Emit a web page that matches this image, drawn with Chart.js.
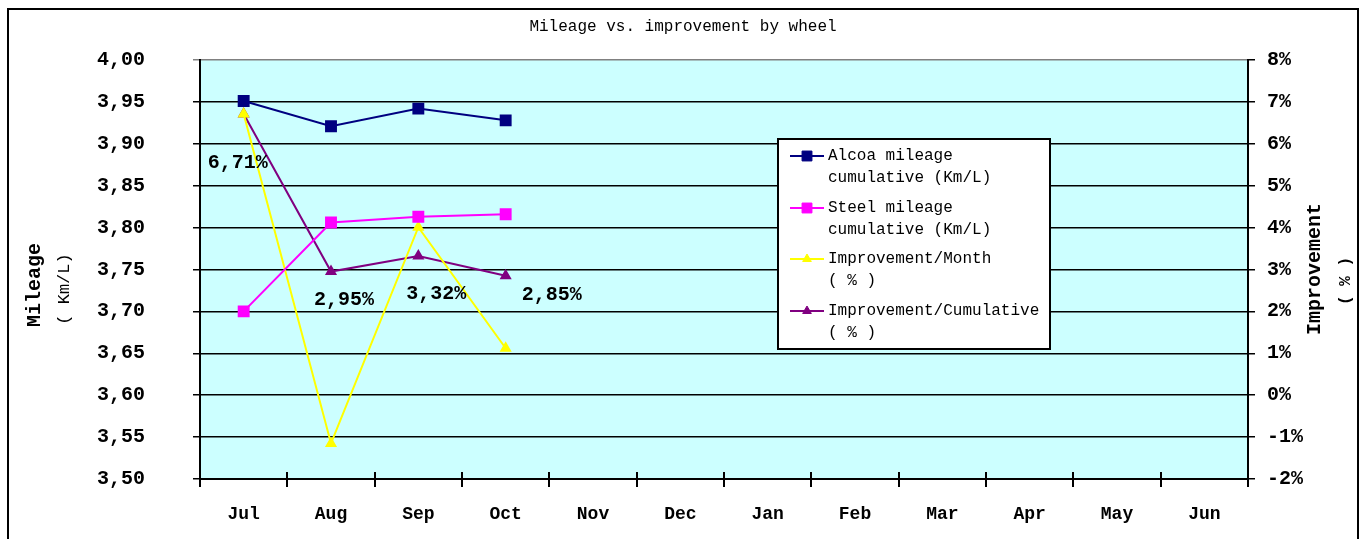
<!DOCTYPE html>
<html>
<head>
<meta charset="utf-8">
<script src="https://cdn.jsdelivr.net/npm/chart.js@4/dist/chart.umd.min.js"></script>
<style>
  html, body { margin: 0; padding: 0; background: #fff; }
</style>
</head>
<body>
<canvas id="myChart" width="1362" height="539"></canvas>
<script>
// Chart values
const months = ['Jul', 'Aug', 'Sep', 'Oct', 'Nov', 'Dec', 'Jan', 'Feb', 'Mar', 'Apr', 'May', 'Jun']
const alcoaMileage = [3.951, 3.921, 3.942, 3.928]
const steelMileage = [3.700, 3.806, 3.813, 3.816]
const improvementMonth = [6.71, -1.15, 4.01, 1.12] // %
const improvementCum = [6.71, 2.95, 3.32, 2.85] // %
const cumLabels = ['6,71%', '2,95%', '3,32%', '2,85%']

const mono = 'Liberation Mono'

// comma decimal like the original sheet
const commaNum = (v) => v.toFixed(2).replace('.', ',')

// plot background + outer frame + titles
const backdrop = {
  id: 'backdrop',
  beforeDraw(chart) {
    const { ctx, chartArea: a } = chart
    ctx.save()
    ctx.fillStyle = '#fff'
    ctx.fillRect(0, 0, chart.width, chart.height)
    ctx.fillStyle = '#CCFFFF'
    ctx.fillRect(a.left, a.top, a.right - a.left, a.bottom - a.top)
    ctx.strokeStyle = '#000'
    ctx.lineWidth = 2
    ctx.strokeRect(8, 9, 1350, 600)

    ctx.fillStyle = '#000'
    ctx.textAlign = 'center'
    ctx.textBaseline = 'middle'
    ctx.font = `16px "${mono}"`
    ctx.fillText('Mileage vs. improvement by wheel', 683, 27)

    // left axis title
    ctx.save()
    ctx.translate(35, 285)
    ctx.rotate(-Math.PI / 2)
    ctx.font = `bold 20px "${mono}"`
    ctx.fillText('Mileage', 0, 0)
    ctx.restore()
    ctx.save()
    ctx.translate(64, 289)
    ctx.rotate(-Math.PI / 2)
    ctx.font = `17px "${mono}"`
    ctx.fillText('( Km/L)', 0, 0)
    ctx.restore()

    // right axis title
    ctx.save()
    ctx.translate(1315, 269)
    ctx.rotate(-Math.PI / 2)
    ctx.font = `bold 20px "${mono}"`
    ctx.fillText('Improvement', 0, 0)
    ctx.restore()
    ctx.save()
    ctx.translate(1346, 281)
    ctx.rotate(-Math.PI / 2)
    ctx.font = `bold 16px "${mono}"`
    ctx.fillText('( % )', 0, 0)
    ctx.restore()
    ctx.restore()
  },
  // x ticks cross the axis line in the original
  afterDraw(chart) {
    const { ctx, chartArea: a } = chart
    const x = chart.scales.x
    const step = (a.right - a.left) / months.length
    ctx.save()
    ctx.strokeStyle = '#000'
    ctx.lineWidth = 2
    ctx.beginPath()
    for (let i = 0; i <= months.length; i++) {
      const px = Math.round(a.left + i * step)
      ctx.moveTo(px, a.bottom - 7)
      ctx.lineTo(px, a.bottom)
    }
    ctx.stroke()
    ctx.restore()
  },
}

// value labels for the cumulative series (placed by hand like in Excel)
const cumValueLabels = {
  id: 'cumValueLabels',
  afterDatasetsDraw(chart, args, opts) {
    const { ctx } = chart
    const meta = chart.getDatasetMeta(3)
    ctx.save()
    ctx.fillStyle = '#000'
    ctx.font = `bold 20px "${mono}"`
    ctx.textAlign = 'center'
    ctx.textBaseline = 'middle'
    meta.data.forEach((pt, i) => {
      const off = opts.offsets[i]
      ctx.fillText(cumLabels[i], pt.x + off[0], pt.y + off[1])
    })
    ctx.restore()
  },
}

// boxed legend inside the plot
const boxLegend = {
  id: 'boxLegend',
  afterDraw(chart, args, opts) {
    const { ctx } = chart
    const b = opts.box
    ctx.save()
    ctx.fillStyle = '#fff'
    ctx.fillRect(b.x, b.y, b.w, b.h)
    ctx.strokeStyle = '#000'
    ctx.lineWidth = 2
    ctx.strokeRect(b.x, b.y, b.w, b.h)
    ctx.font = `16px "${mono}"`
    ctx.textBaseline = 'middle'
    ctx.textAlign = 'left'
    chart.data.datasets.forEach((ds, i) => {
      const y = opts.rows[i]
      ctx.strokeStyle = ds.borderColor
      ctx.lineWidth = 2
      ctx.beginPath()
      ctx.moveTo(790, y)
      ctx.lineTo(824, y)
      ctx.stroke()
      ctx.fillStyle = ds.pointBackgroundColor
      ctx.strokeStyle = ds.pointBackgroundColor
      ctx.lineWidth = 1
      Chart.helpers.drawPoint(ctx, { pointStyle: ds.pointStyle, radius: ds.pointRadius, borderWidth: 1 }, 807, y)
      ctx.fillStyle = '#000'
      ds.label.forEach((t, k) => ctx.fillText(t, 828, y + k * 22))
    })
    ctx.restore()
  },
}

const ctx = document.getElementById('myChart').getContext('2d')

new Chart(ctx, {
  type: 'line',
  data: {
    labels: months,
    datasets: [
      {
        label: ['Alcoa mileage', 'cumulative (Km/L)'],
        data: alcoaMileage,
        yAxisID: 'y',
        borderColor: '#000080',
        backgroundColor: '#000080',
        pointBackgroundColor: '#000080',
        pointBorderColor: '#000080',
        pointStyle: 'rect',
        pointRadius: 7,
        borderWidth: 2,
      },
      {
        label: ['Steel mileage', 'cumulative (Km/L)'],
        data: steelMileage,
        yAxisID: 'y',
        borderColor: '#FF00FF',
        backgroundColor: '#FF00FF',
        pointBackgroundColor: '#FF00FF',
        pointBorderColor: '#FF00FF',
        pointStyle: 'rect',
        pointRadius: 7,
        borderWidth: 2,
      },
      {
        label: ['Improvement/Month', '( % )'],
        data: improvementMonth,
        yAxisID: 'y1',
        borderColor: '#FFFF00',
        backgroundColor: '#FFFF00',
        pointBackgroundColor: '#FFFF00',
        pointBorderColor: '#FFFF00',
        pointStyle: 'triangle',
        pointRadius: 5,
        borderWidth: 2,
      },
      {
        label: ['Improvement/Cumulative', '( % )'],
        data: improvementCum,
        yAxisID: 'y1',
        borderColor: '#800080',
        backgroundColor: '#800080',
        pointBackgroundColor: '#800080',
        pointBorderColor: '#800080',
        pointStyle: 'triangle',
        pointRadius: 5,
        borderWidth: 2,
      },
    ],
  },
  options: {
    responsive: false,
    animation: false,
    devicePixelRatio: 1,
    layout: { padding: { top: 59, left: 0, right: 0, bottom: 0 } },
    plugins: {
      legend: { display: false },
      tooltip: { enabled: false },
      cumValueLabels: { offsets: [[-6, 49], [13, 28], [18, 38], [46, 19]] },
      boxLegend: {
        box: { x: 778, y: 139, w: 272, h: 210 },
        rows: [156, 208, 259, 311],
      },
    },
    scales: {
      x: {
        offset: true,
        grid: { offset: true, drawOnChartArea: false, color: '#000', lineWidth: 2, tickLength: 8 },
        border: { color: '#000', width: 2 },
        ticks: { color: '#000', font: { family: mono, size: 18, weight: 'bold' }, padding: 17 },
        afterFit: (s) => { s.height = 60 },
      },
      y: {
        position: 'left',
        min: 3.5,
        max: 4.0,
        ticks: {
          stepSize: 0.05,
          color: '#000',
          padding: 48,
          font: { family: mono, size: 20, weight: 'bold' },
          callback: (v) => commaNum(v),
        },
        grid: {
          color: (c) => (c.tick && Math.abs(c.tick.value - 4) < 1e-6 ? '#808080' : '#000'),
          lineWidth: 1.5,
          tickLength: 7,
        },
        border: { color: '#000', width: 2 },
        afterFit: (s) => { s.width = 200 },
      },
      y1: {
        position: 'right',
        min: -2,
        max: 8,
        ticks: {
          stepSize: 1,
          color: '#000',
          padding: 12,
          font: { family: mono, size: 20, weight: 'bold' },
          callback: (v) => v + '%',
        },
        grid: { drawOnChartArea: false, color: '#000', lineWidth: 1.5, tickLength: 7 },
        border: { color: '#000', width: 2 },
        afterFit: (s) => { s.width = 114 },
      },
    },
  },
  plugins: [backdrop, cumValueLabels, boxLegend],
})
</script>
</body>
</html>
